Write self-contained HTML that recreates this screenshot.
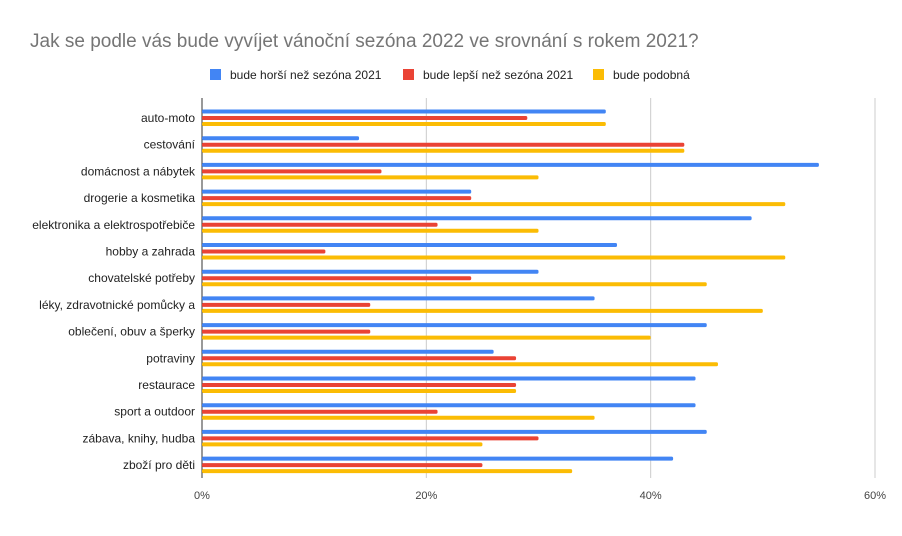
<!DOCTYPE html>
<html><head><meta charset="utf-8"><style>
body{margin:0;background:#fff;font-family:"Liberation Sans",Arial,sans-serif}
svg text{font-family:"Liberation Sans",Arial,sans-serif}
</style></head><body>
<svg id="chart" width="902" height="531" xmlns="http://www.w3.org/2000/svg">
<rect width="902" height="531" fill="#fff"/>
<text x="30" y="47" font-size="19" fill="#757575">Jak se podle vás bude vyvíjet vánoční sezóna 2022 ve srovnání s rokem 2021?</text>
<g font-size="12" fill="#222">
<g><rect x="210" y="69" width="11" height="11" fill="#4285f4"/><text x="230" y="79">bude horší než sezóna 2021</text></g>
<g><rect x="403" y="69" width="11" height="11" fill="#ea4335"/><text x="423" y="79">bude lepší než sezóna 2021</text></g>
<g><rect x="593" y="69" width="11" height="11" fill="#fbbc04"/><text x="613" y="79">bude podobná</text></g>
</g>
<g id="grid"></g><g id="bars"></g><g id="labels"></g>
</svg>
<script>
const categories=["auto-moto","cestování","domácnost a nábytek","drogerie a kosmetika","elektronika a elektrospotřebiče","hobby a zahrada","chovatelské potřeby","léky, zdravotnické pomůcky a","oblečení, obuv a šperky","potraviny","restaurace","sport a outdoor","zábava, knihy, hudba","zboží pro děti"];
const worse=[36,14,55,24,49,37,30,35,45,26,44,44,45,42];
const better=[29,43,16,24,21,11,24,15,15,28,28,21,30,25];
const similar=[36,43,30,52,30,52,45,50,40,46,28,35,25,33];
const ticks=[0,20,40,60];
const tickLabels=["0%","20%","40%","60%"];
const NS="http://www.w3.org/2000/svg";
const x0=202,x1=875,xmax=60,plotTop=98,plotBottom=478;
const xs=v=>x0+(x1-x0)*v/xmax;
const yc=i=>118+i*26.7;
function mk(t,a,p){const e=document.createElementNS(NS,t);for(const k in a)e.setAttribute(k,a[k]);p.appendChild(e);return e;}
const grid=document.getElementById('grid'),bars=document.getElementById('bars'),labels=document.getElementById('labels');
ticks.forEach((t,i)=>{
 const l=mk('line',{x1:xs(t),x2:xs(t),y1:plotTop,y2:plotBottom,stroke:t===0?'#333':'#ccc','stroke-width':1},grid);
 
 
 const tx=mk('text',{x:xs(t),y:499,'font-size':11,'text-anchor':'middle',fill:'#444'},labels);
 tx.textContent=tickLabels[i];
 
 
});
const series=[[worse,'#4285f4',-6.5,'worse'],[better,'#ea4335',0,'better'],[similar,'#fbbc04',6,'similar']];
categories.forEach((c,i)=>{
 const tx=mk('text',{x:195,y:yc(i)+4,'font-size':12,'text-anchor':'end',fill:'#222'},labels);
 tx.textContent=c;
 
 
 series.forEach(([arr,col,off,nm])=>{
  const r=mk('rect',{x:x0,y:yc(i)+off-2,width:xs(arr[i])-x0,height:4,fill:col,rx:1.5},bars);
  
  
 });
});
</script>
</body></html>
